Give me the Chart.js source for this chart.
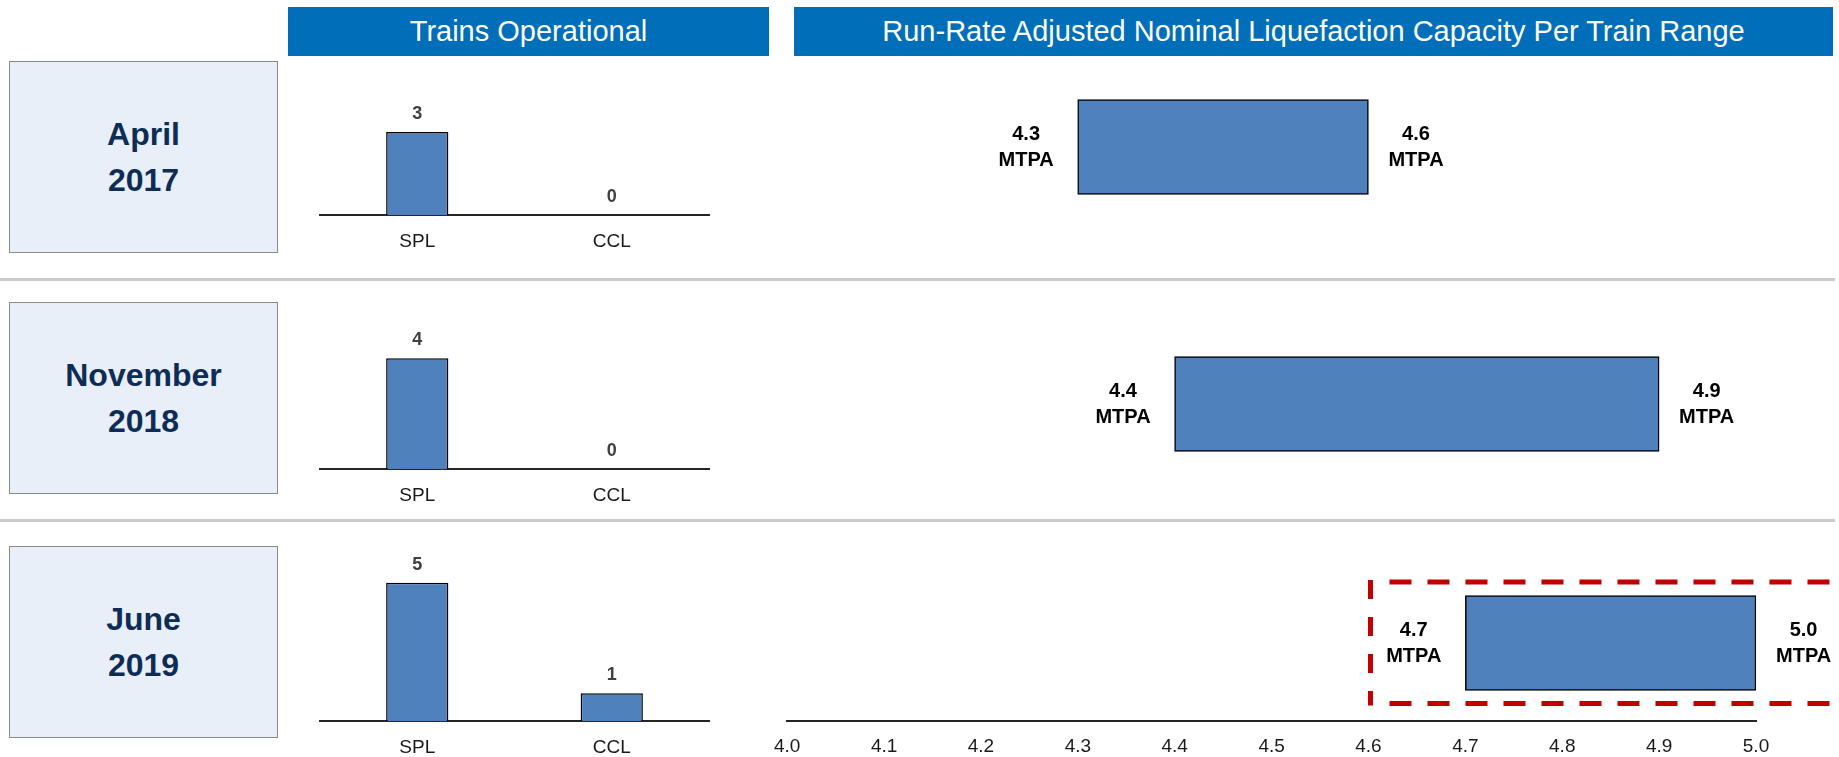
<!DOCTYPE html>
<html>
<head>
<meta charset="utf-8">
<script src="https://cdn.jsdelivr.net/npm/chart.js@4.4.1/dist/chart.umd.min.js"></script>
<style>
html,body{margin:0;padding:0;background:#fff;}
#page{position:relative;width:1839px;height:757px;overflow:hidden;font-family:"Liberation Sans",Arial,sans-serif;}
.hdr{position:absolute;top:7px;height:49px;background:#006EB8;color:#fff;font-size:29px;display:flex;align-items:center;justify-content:center;z-index:5;white-space:nowrap;}
.datebox{position:absolute;left:9px;width:269px;height:192px;box-sizing:border-box;background:#E9EFF9;border:1px solid #8A8A8A;display:flex;flex-direction:column;align-items:center;justify-content:center;color:#0E2D56;font-weight:bold;font-size:32px;}
.datebox div{line-height:46px;height:46px;}
.sep{position:absolute;left:0;width:1835px;height:3px;background:#CACACA;}
canvas{position:absolute;}
</style>
</head>
<body>
<div id="page"></div>
<script>
// ---------- data ----------
const periodMonths = ['April', 'November', 'June'];
const periodYears = ['2017', '2018', '2019'];
const trainCategories = ['SPL', 'CCL'];
const splTrains = [3, 4, 5];
const cclTrains = [0, 0, 1];
const capacityLow = [4.3, 4.4, 4.7];
const capacityHigh = [4.6, 4.9, 5.0];
const capacityUnit = 'MTPA';
const capacityAxisMin = 4.0;
const capacityAxisMax = 5.0;
const capacityAxisStep = 0.1;
const highlightRow = 2;
const highlightFrom = 4.6;
const headerTitles = ['Trains Operational', 'Run-Rate Adjusted Nominal Liquefaction Capacity Per Train Range'];

// ---------- layout (styles only) ----------
const page = document.getElementById('page');
const FONT = '"Liberation Sans", Arial, sans-serif';
const BAR_BLUE = '#4F81BD';

const hdrPos = [{left: 288, width: 481}, {left: 794, width: 1039}];
headerTitles.forEach((t, i) => {
  const d = document.createElement('div');
  d.className = 'hdr';
  d.style.left = hdrPos[i].left + 'px';
  d.style.width = hdrPos[i].width + 'px';
  d.textContent = t;
  page.appendChild(d);
});

const boxTops = [61, 302, 546];
const sepTops = [278, 519];
sepTops.forEach(t => {
  const s = document.createElement('div');
  s.className = 'sep';
  s.style.top = t + 'px';
  page.appendChild(s);
});
periodMonths.forEach((m, i) => {
  const b = document.createElement('div');
  b.className = 'datebox';
  b.style.top = boxTops[i] + 'px';
  const l1 = document.createElement('div'); l1.textContent = m;
  const l2 = document.createElement('div'); l2.textContent = periodYears[i];
  b.appendChild(l1); b.appendChild(l2);
  page.appendChild(b);
});

function makeCanvas(left, top, w, h) {
  const c = document.createElement('canvas');
  c.width = w; c.height = h;
  c.style.left = left + 'px'; c.style.top = top + 'px';
  c.style.width = w + 'px'; c.style.height = h + 'px';
  page.appendChild(c);
  return c;
}

// ---------- left: trains operational ----------
const valueLabelPlugin = {
  id: 'valueLabels',
  afterDatasetsDraw(chart) {
    const ctx = chart.ctx;
    const ds = chart.data.datasets[0];
    const meta = chart.getDatasetMeta(0);
    ctx.save();
    ctx.font = 'bold 18px ' + FONT;
    ctx.fillStyle = '#404040';
    ctx.textAlign = 'center';
    ctx.textBaseline = 'middle';
    meta.data.forEach((el, i) => {
      ctx.fillText(String(ds.data[i]), el.x, el.y - 18);
    });
    ctx.restore();
  }
};

const baselines = [215, 469, 721];
const BAR_AREA_H = 166;
splTrains.forEach((v, i) => {
  const c = makeCanvas(280, baselines[i] - BAR_AREA_H, 470, BAR_AREA_H + 40);
  new Chart(c, {
    type: 'bar',
    data: {
      labels: trainCategories,
      datasets: [{
        data: [splTrains[i], cclTrains[i]],
        backgroundColor: BAR_BLUE,
        borderColor: '#000',
        borderWidth: 1.5,
        barPercentage: 0.32,
        categoryPercentage: 1
      }]
    },
    options: {
      responsive: false,
      animation: false,
      layout: {padding: {left: 40, right: 41, top: 0, bottom: 0}},
      plugins: {legend: {display: false}, tooltip: {enabled: false}},
      scales: {
        x: {
          grid: {display: false, drawTicks: false},
          border: {display: true, color: '#262626', width: 2},
          ticks: {color: '#1a1a1a', font: {family: FONT, size: 19}, padding: 15},
          afterFit(scale) { scale.height = 40; }
        },
        y: {display: false, min: 0, max: 6}
      }
    },
    plugins: [valueLabelPlugin]
  });
});

// ---------- right: capacity ranges ----------
const rangeLabelPlugin = {
  id: 'rangeLabels',
  afterDatasetsDraw(chart) {
    const ctx = chart.ctx;
    const ds = chart.data.datasets[0];
    const el = chart.getDatasetMeta(0).data[0];
    const [lo, hi] = ds.data[0];
    const left = Math.min(el.x, el.base), right = Math.max(el.x, el.base);
    ctx.save();
    ctx.font = 'bold 20px ' + FONT;
    ctx.fillStyle = '#000';
    ctx.textAlign = 'center';
    ctx.textBaseline = 'middle';
    const half = ctx.measureText(capacityUnit).width / 2;
    [[left - 24 - half, lo], [right + 20 + half, hi]].forEach(([x, v]) => {
      ctx.fillText(v.toFixed(1), x, el.y - 13);
      ctx.fillText(capacityUnit, x, el.y + 13);
    });
    ctx.restore();
  }
};

const highlightPlugin = {
  id: 'highlightBox',
  afterDatasetsDraw(chart) {
    const ctx = chart.ctx;
    const el = chart.getDatasetMeta(0).data[0];
    const x0 = chart.scales.x.getPixelForValue(highlightFrom) + 2;
    const top = el.y - el.height / 2 - 13.5;
    const bottom = el.y + el.height / 2 + 13;
    const xr = chart.width + 20;
    ctx.save();
    ctx.strokeStyle = '#C00000';
    ctx.lineWidth = 5;
    ctx.lineCap = 'butt';
    ctx.setLineDash([19, 18]);
    ctx.beginPath(); ctx.moveTo(x0, top - 2); ctx.lineTo(x0, bottom + 2); ctx.stroke();
    ctx.setLineDash([22, 16]);
    ctx.beginPath(); ctx.moveTo(x0 + 19, top); ctx.lineTo(xr, top); ctx.stroke();
    ctx.beginPath(); ctx.moveTo(x0 + 19, bottom); ctx.lineTo(xr, bottom); ctx.stroke();
    ctx.restore();
  }
};

const rangeCenters = [146.5, 404];
capacityLow.forEach((lo, i) => {
  const isLast = i === capacityLow.length - 1;
  let c;
  if (!isLast) {
    c = makeCanvas(760, Math.round(rangeCenters[i] - 65), 1079, 130);
  } else {
    c = makeCanvas(760, 565, 1079, 196);
  }
  const plugins = [rangeLabelPlugin];
  if (i === highlightRow) plugins.push(highlightPlugin);
  const xScale = {
    type: 'linear',
    display: isLast,
    min: capacityAxisMin,
    max: capacityAxisMax,
    grid: {display: false, drawTicks: false},
    border: {display: true, color: '#262626', width: 2},
    ticks: {
      stepSize: capacityAxisStep,
      color: '#1a1a1a',
      font: {family: FONT, size: 19},
      padding: 14,
      maxRotation: 0,
      autoSkip: false,
      callback: v => Number(v).toFixed(1)
    }
  };
  if (isLast) xScale.afterFit = (scale) => { scale.height = 40; };
  new Chart(c, {
    type: 'bar',
    data: {
      labels: [periodMonths[i] + ' ' + periodYears[i]],
      datasets: [{
        data: [[lo, capacityHigh[i]]],
        backgroundColor: BAR_BLUE,
        borderColor: '#000',
        borderWidth: 1.5,
        borderSkipped: false,
        barThickness: 95
      }]
    },
    options: {
      indexAxis: 'y',
      responsive: false,
      animation: false,
      layout: {padding: {left: 27, right: 83, top: 0, bottom: 0}},
      plugins: {legend: {display: false}, tooltip: {enabled: false}},
      scales: {
        x: xScale,
        y: {display: false}
      }
    },
    plugins: plugins
  });
});
</script>
</body>
</html>
